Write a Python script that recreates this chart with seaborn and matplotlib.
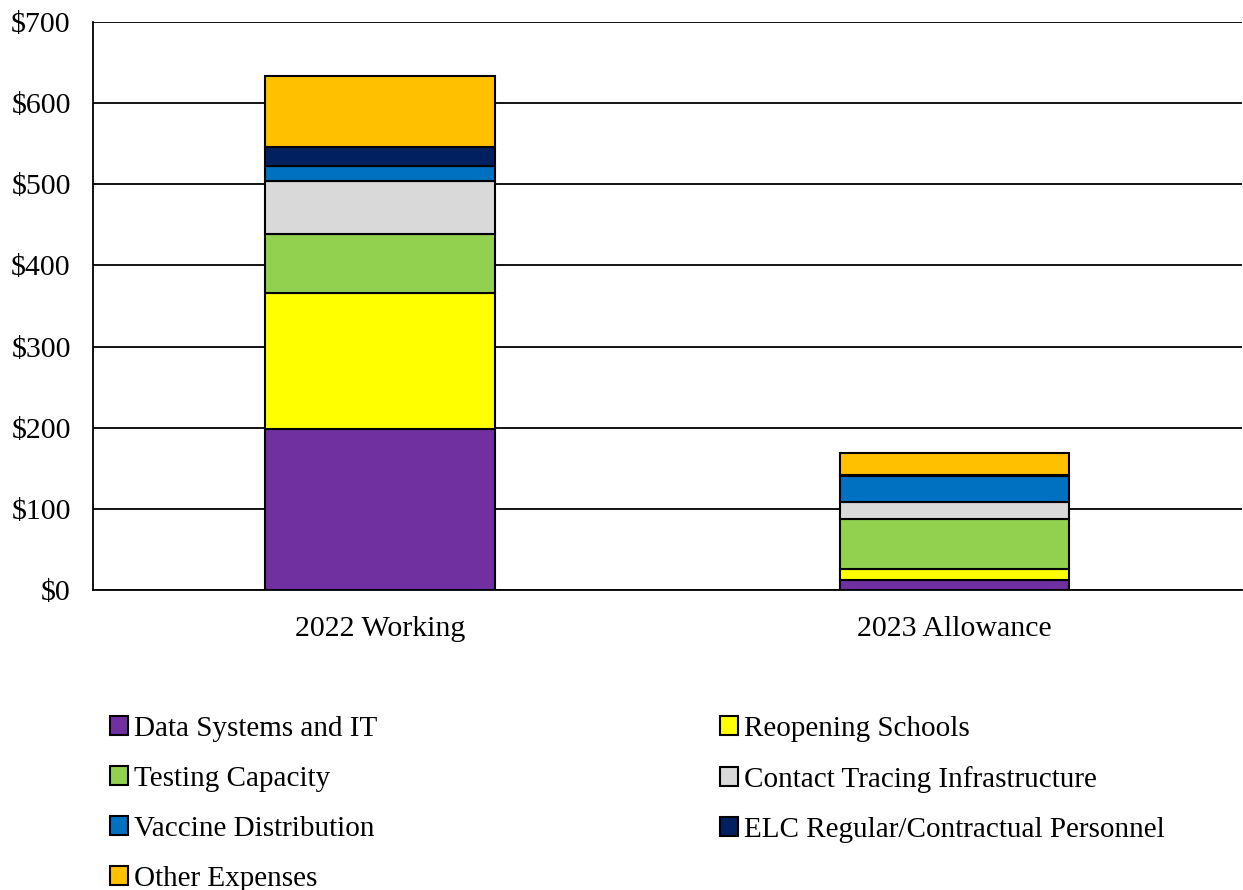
import matplotlib
matplotlib.use("Agg")
import matplotlib.pyplot as plt
import seaborn as sns
import numpy as np
from matplotlib.patches import Patch

years = ["2022 Working", "2023 Allowance"]
categories = ["Data Systems and IT", "Reopening Schools", "Testing Capacity",
              "Contact Tracing Infrastructure", "Vaccine Distribution",
              "ELC Regular/Contractual Personnel", "Other Expenses"]
data_systems = [198, 12]
reopening = [168, 14]
testing = [73, 61]
contact = [65, 21.5]
vaccine = [18, 32]
elc = [24, 1]
other = [87, 27.5]
series = [data_systems, reopening, testing, contact, vaccine, elc, other]
colors = ["#7030A0", "#FFFF00", "#92D050", "#D9D9D9", "#0070C0", "#002060", "#FFC000"]
yticks = [0, 100, 200, 300, 400, 500, 600, 700]

sns.set_theme(style="white")
plt.rcParams['font.family'] = ['Liberation Serif', 'DejaVu Serif']
plt.rcParams['text.color'] = 'black'

fig = plt.figure(figsize=(12.43, 8.90), dpi=100)
ax = fig.add_axes([93/1243, 1-590/890, 1-93/1243-0.001, (590-22)/890])

bottom = np.zeros(len(years))
for vals, col in zip(series, colors):
    sns.barplot(x=years, y=vals, bottom=bottom, color=col, width=0.4,
                edgecolor="black", linewidth=1.5, ax=ax, zorder=3,
                saturation=1, errorbar=None)
    bottom = bottom + np.array(vals)

ax.set_ylim(0, 700)
ax.set_yticks(yticks)
ax.set_yticklabels([f"${v}" for v in yticks], fontsize=21.5)
ax.tick_params(axis='x', labelsize=21.5, length=0, pad=19)
ax.tick_params(axis='y', length=0, pad=16)
for t in ax.get_xticklabels() + ax.get_yticklabels():
    t.set_color("black")
ax.yaxis.grid(True, color="black", linewidth=1.3, zorder=0)
ax.set_axisbelow(True)
ax.set_xlabel("")
ax.set_ylabel("")
for s in ["top", "right"]:
    ax.spines[s].set_visible(False)
for s in ["left", "bottom"]:
    ax.spines[s].set_color("black")
    ax.spines[s].set_linewidth(1.3)

handles = [Patch(facecolor=c, edgecolor="black", linewidth=1.5, label=l)
           for c, l in zip(colors, categories)]
order = [0, 2, 4, 6, 1, 3, 5]
leg = fig.legend([handles[i] for i in order], [categories[i] for i in order],
                 loc="upper left", bbox_to_anchor=(110/1243, 1-716/890), ncol=2,
                 frameon=False, fontsize=21, borderaxespad=0, borderpad=0,
                 handlelength=0.62, handleheight=0.62, handletextpad=0.2,
                 labelspacing=0.82, columnspacing=11.75)
for t in leg.get_texts():
    t.set_color("black")

fig.savefig("out.png", dpi=100)
